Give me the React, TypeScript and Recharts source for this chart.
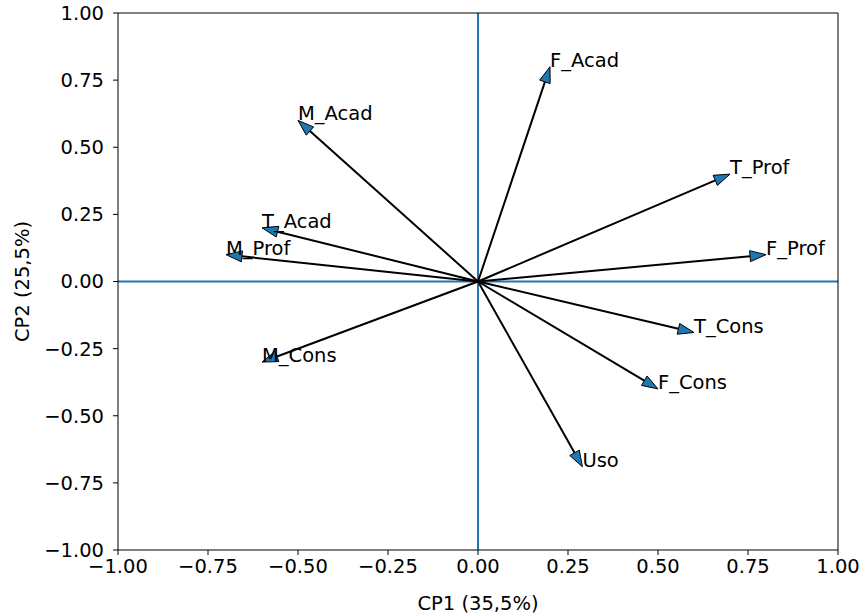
import React from 'react';
import { ScatterChart, Scatter, XAxis, YAxis, ReferenceLine } from 'recharts';

// loadings of each variable on CP1 / CP2
const variables = ['F_Acad', 'M_Acad', 'T_Prof', 'T_Acad', 'M_Prof', 'F_Prof', 'M_Cons', 'T_Cons', 'F_Cons', 'Uso'];
const cp1 = [0.2, -0.5, 0.7, -0.6, -0.7, 0.8, -0.6, 0.6, 0.5, 0.29];
const cp2 = [0.8, 0.6, 0.4, 0.2, 0.1, 0.1, -0.3, -0.19, -0.4, -0.69];

const axisTicks = [-1, -0.75, -0.5, -0.25, 0, 0.25, 0.5, 0.75, 1];

const FONT = 'DejaVu Sans, sans-serif';
const FS = 19.5;
const BLUE = '#1f77b4';

const fmt = (v: number) => (v < 0 ? '\u2212' : '') + Math.abs(v).toFixed(2);

// draws shaft + head from the two pixel points the scatter gives us
const makeArrow = (name: string) => (props: any) => {
  const pts = props.points || [];
  if (pts.length < 2) return <g />;
  const [o, t] = pts;
  const dx = t.x - o.x;
  const dy = t.y - o.y;
  const len = Math.sqrt(dx * dx + dy * dy) || 1;
  const ux = dx / len;
  const uy = dy / len;
  const hl = 16;
  const hw = 5.5;
  const bx = t.x - ux * hl;
  const by = t.y - uy * hl;
  const head = [
    `${t.x},${t.y}`,
    `${bx - uy * hw},${by + ux * hw}`,
    `${bx + uy * hw},${by - ux * hw}`,
  ].join(' ');
  return (
    <g>
      <line x1={o.x} y1={o.y} x2={bx} y2={by} stroke="#000" strokeWidth={2} />
      <polygon points={head} fill={BLUE} stroke="#000" strokeWidth={1} />
      <text x={t.x} y={t.y} fontFamily={FONT} fontSize={FS} fill="#000">
        {name}
      </text>
    </g>
  );
};

const XLabel = (props: any) => {
  const vb = props.viewBox;
  return (
    <text x={vb.x + vb.width / 2} y={vb.y + 53} textAnchor="middle" dominantBaseline="central" fontFamily={FONT} fontSize={FS} fill="#000">
      CP1 (35,5%)
    </text>
  );
};

const YLabel = (props: any) => {
  const vb = props.viewBox;
  const cx = vb.x + 22;
  const cy = vb.y + vb.height / 2;
  return (
    <text x={cx} y={cy} transform={`rotate(-90 ${cx} ${cy})`} textAnchor="middle" dominantBaseline="central" fontFamily={FONT} fontSize={FS} fill="#000">
      CP2 (25,5%)
    </text>
  );
};

const App = () => {
  const tickStyle = { fill: '#000', fontSize: FS, fontFamily: FONT };
  return (
    <div style={{ position: 'absolute', left: 0, top: 0, background: '#fff' }}>
      <ScatterChart width={864} height={616} margin={{ top: 13, right: 26, bottom: 0, left: 0 }}>
        <XAxis
          type="number"
          dataKey="x"
          domain={[-1, 1]}
          ticks={axisTicks}
          tickFormatter={fmt}
          allowDataOverflow
          height={66}
          tick={tickStyle}
          tickSize={5}
          tickMargin={4}
          stroke="#000"
          label={{ content: XLabel }}
        />
        <YAxis
          type="number"
          dataKey="y"
          domain={[-1, 1]}
          ticks={axisTicks}
          tickFormatter={fmt}
          allowDataOverflow
          width={118}
          tick={tickStyle}
          tickSize={5}
          tickMargin={9}
          stroke="#000"
          label={{ content: YLabel }}
        />
        <ReferenceLine x={0} stroke={BLUE} strokeWidth={2} />
        <ReferenceLine y={0} stroke={BLUE} strokeWidth={2} />
        <ReferenceLine x={1} stroke="#000" strokeWidth={1} />
        <ReferenceLine y={1} stroke="#000" strokeWidth={1} />
        {variables.map((name, i) => (
          <Scatter
            key={name}
            name={name}
            data={[
              { x: 0, y: 0 },
              { x: cp1[i], y: cp2[i] },
            ]}
            line={makeArrow(name)}
            shape={() => <g />}
            isAnimationActive={false}
            legendType="none"
          />
        ))}
      </ScatterChart>
    </div>
  );
};

export default App;
